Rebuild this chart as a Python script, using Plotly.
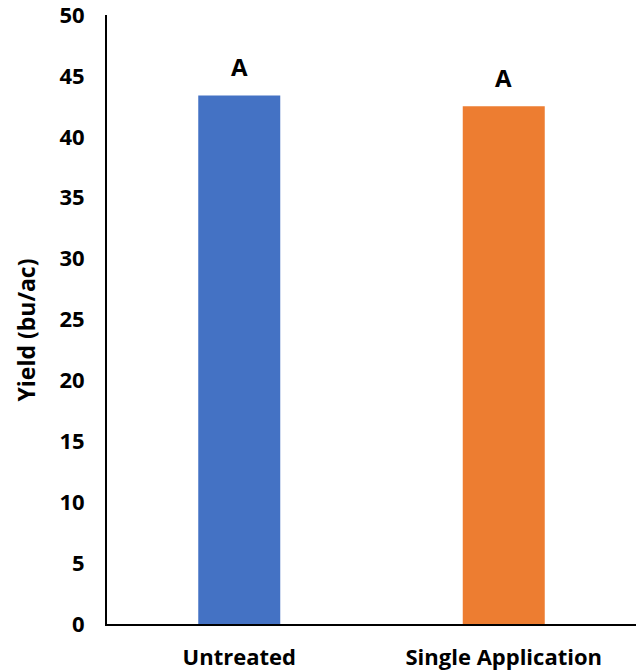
import plotly.graph_objects as go

categories = ["Untreated", "Single Application"]
yields = [43.4, 42.5]
letters = ["A", "A"]
colors = ["#4472C4", "#ED7D31"]
y_ticks = [0, 5, 10, 15, 20, 25, 30, 35, 40, 45, 50]
y_title = "Yield (bu/ac)"

FONT = "Open Sans"
BOLD = dict(family=FONT, color="black", weight="bold")

fig = go.Figure()
fig.add_trace(go.Bar(x=categories, y=yields, marker_color=colors,
                     marker_line_width=0, width=0.31, hoverinfo="skip"))

for c, v, t in zip(categories, yields, letters):
    fig.add_annotation(x=c, y=v, text=t, showarrow=False, yanchor="bottom",
                       yshift=10, font=dict(size=24, **BOLD))

fig.add_annotation(text=y_title, textangle=-90, showarrow=False,
                   xref="paper", yref="paper", x=0, y=0.5,
                   xanchor="center", yanchor="middle",
                   xshift=-82, yshift=-11, font=dict(size=23, **BOLD))

fig.update_layout(
    width=638, height=671,
    margin=dict(l=107, r=2, t=15, b=47),
    plot_bgcolor="white", paper_bgcolor="white",
    showlegend=False,
    font=dict(size=22, **BOLD),
)
fig.update_xaxes(showline=True, linecolor="black", linewidth=2, showgrid=False,
                 ticks="", ticklabelstandoff=13, automargin=False,
                 ticklabeloverflow="allow",
                 tickfont=dict(size=22, **BOLD))
fig.update_yaxes(range=[0, 50], tickvals=y_ticks, showline=True, linecolor="black",
                 linewidth=2, showgrid=False, zeroline=False, ticks="",
                 ticklabelstandoff=16, automargin=False,
                 ticklabeloverflow="allow",
                 tickfont=dict(size=22, **BOLD))

fig.write_html("out.html", config={"displayModeBar": False},
               post_script="document.body.style.margin='0';document.body.style.overflow='hidden';")
